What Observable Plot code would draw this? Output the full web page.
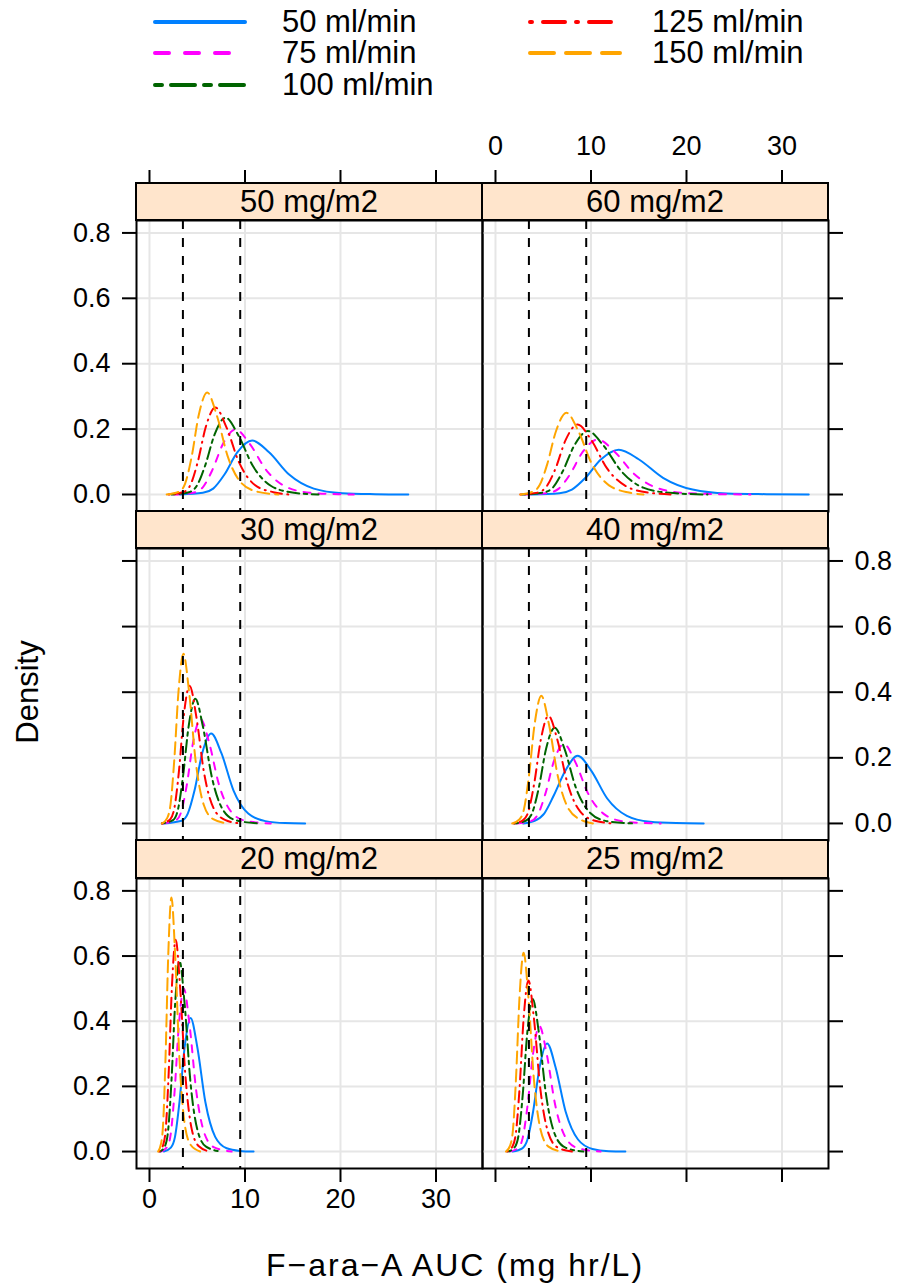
<!DOCTYPE html>
<html>
<head>
<meta charset="utf-8">
<script src="https://cdn.jsdelivr.net/npm/d3@7"></script>
<script src="https://cdn.jsdelivr.net/npm/@observablehq/plot@0.6"></script>
<style>
  body { margin: 0; background: #fff; }
  #chart { position: relative; width: 898px; height: 1283px; overflow: hidden;
           font-family: "Liberation Sans", Arial, Helvetica, sans-serif; color: #000; background: #fff; }
  .strip { position: absolute; box-sizing: border-box; background: #ffe5cc; border: 2px solid #000;
           display: flex; align-items: center; justify-content: center; font-size: 31px; }
  .txt { position: absolute; font-size: 31px; line-height: 26px; white-space: nowrap; }
</style>
</head>
<body>
<div id="chart"></div>
<script>
// ---------------- data ----------------
const flows = ["50 ml/min", "75 ml/min", "100 ml/min", "125 ml/min", "150 ml/min"];
const flowColors = ["#0080ff", "#ff00ff", "#006400", "#ff0000", "#ffa500"];
const flowDash = [null, "7,8", "3.5,4.5,12,4.5", "1,5.5,11,5.5", "12,6"];
const doses = ["50 mg/m2", "60 mg/m2", "30 mg/m2", "40 mg/m2", "20 mg/m2", "25 mg/m2"];
const xTicks = [0, 10, 20, 30];
const xTickLabels = ["0", "10", "20", "30"];
const yTicks = [0, 0.2, 0.4, 0.6, 0.8];
const yTickLabels = ["0.0", "0.2", "0.4", "0.6", "0.8"];
const refLines = [3.5, 9.5];

// density curves [AUC, density], one list per clearance group (50,75,100,125,150 ml/min)
const auc50 = [
  [[3.2,0],[5.59,.005],[6.67,.018],[7.85,.061],[9.19,.129],[10.75,.165],[12.52,.129],[14.62,.061],[17.2,.018],[20.21,.004],[23.65,.001],[27.1,0]],
  [[2.5,0],[4.68,.006],[5.58,.022],[6.57,.074],[7.70,.155],[9.0,.199],[10.49,.155],[12.24,.074],[14.4,.022],[16.92,.005],[19.8,.001],[21.4,0]],
  [[2.3,0],[4.14,.007],[4.94,.026],[5.81,.087],[6.81,.183],[7.96,.235],[9.27,.183],[10.83,.087],[12.74,.026],[14.96,.006],[17.7,0]],
  [[2.0,0],[3.59,.008],[4.28,.029],[5.04,.098],[5.90,.207],[6.9,.266],[8.04,.207],[9.38,.098],[11.04,.029],[12.97,.007],[14.6,0]],
  [[1.8,0],[3.14,.009],[3.74,.034],[4.41,.115],[5.16,.243],[6.04,.312],[7.04,.243],[8.21,.115],[9.66,.034],[11.36,.008],[13.5,0]]
];
const auc60 = [
  [[3.7,0],[6.71,.004],[8.0,.015],[9.42,.051],[11.03,.107],[12.9,.137],[15.03,.107],[17.54,.051],[20.64,.015],[24.25,.003],[28.38,.001],[32.8,0]],
  [[3.0,0],[5.56,.005],[6.63,.018],[7.81,.062],[9.15,.131],[10.7,.168],[12.47,.131],[14.55,.062],[17.12,.018],[20.12,.004],[23.54,.001],[26.7,0]],
  [[2.8,0],[5.03,.006],[6.0,.021],[7.06,.072],[8.27,.151],[9.67,.194],[11.27,.151],[13.15,.072],[15.47,.021],[18.18,.005],[22.2,0]],
  [[2.6,0],[4.47,.006],[5.33,.024],[6.28,.079],[7.35,.167],[8.6,.214],[10.02,.167],[11.7,.079],[13.76,.024],[16.17,.005],[18.7,0]],
  [[2.6,0],[3.86,.008],[4.61,.028],[5.42,.093],[6.35,.195],[7.43,.25],[8.66,.195],[10.10,.093],[11.89,.028],[13.97,.006],[15.5,0]]
];
const auc30 = [
  [[1.5,0],[3.36,.008],[4.01,.03],[4.72,.101],[5.52,.214],[6.46,.274],[7.53,.214],[8.79,.101],[10.34,.03],[12.14,.007],[14.21,.001],[16.3,0]],
  [[1.4,0],[2.78,.01],[3.32,.035],[3.91,.118],[4.57,.248],[5.35,.318],[6.23,.248],[7.28,.118],[8.56,.035],[10.06,.008],[12.7,0]],
  [[1.3,0],[2.50,.011],[2.98,.042],[3.50,.141],[4.10,.296],[4.8,.38],[5.59,.296],[6.53,.141],[7.68,.042],[9.02,.01],[11.4,0]],
  [[1.3,0],[2.18,.013],[2.60,.046],[3.07,.155],[3.59,.328],[4.2,.42],[4.89,.328],[5.71,.155],[6.72,.046],[7.90,.011],[9.5,0]],
  [[1.33,0],[1.85,.016],[2.20,.057],[2.59,.191],[3.04,.403],[3.55,.517],[4.14,.403],[4.83,.191],[5.68,.057],[6.67,.013],[8.2,0]]
];
const auc40 = [
  [[2.9,0],[4.1,.008],[5.1,.03],[6.1,.085],[7.3,.16],[8.6,.206],[10.02,.161],[11.7,.076],[13.76,.023],[16.17,.005],[18.92,.001],[21.8,0]],
  [[2.2,0],[3.72,.007],[4.43,.027],[5.22,.09],[6.11,.189],[7.15,.242],[8.33,.189],[9.72,.09],[11.44,.027],[13.44,.006],[15.73,.001],[17.3,0]],
  [[2.0,0],[3.22,.009],[3.84,.032],[4.53,.108],[5.30,.228],[6.2,.292],[7.22,.228],[8.43,.108],[9.92,.032],[11.66,.007],[14.5,0]],
  [[1.9,0],[2.89,.01],[3.44,.036],[4.05,.121],[4.75,.256],[5.55,.328],[6.47,.256],[7.55,.121],[8.88,.036],[10.43,.008],[12.3,0]],
  [[1.75,0],[2.50,.012],[2.98,.043],[3.50,.144],[4.10,.303],[4.8,.389],[5.59,.303],[6.53,.144],[7.68,.043],[9.02,.01],[10.2,0]]
];
const auc20 = [
  [[1.5,0],[2.24,.012],[2.67,.045],[3.14,.152],[3.68,.32],[4.3,.41],[5.01,.32],[5.85,.152],[6.88,.045],[8.08,.01],[9.46,.002],[10.9,0]],
  [[1.2,0],[1.87,.015],[2.23,.055],[2.63,.185],[3.08,.39],[3.6,.50],[4.19,.39],[4.90,.185],[5.76,.055],[6.77,.013],[8.6,0]],
  [[1.1,0],[1.64,.018],[1.95,.064],[2.30,.216],[2.69,.456],[3.15,.585],[3.67,.456],[4.28,.216],[5.04,.064],[5.92,.015],[7.5,0]],
  [[1.0,0],[1.43,.02],[1.71,.072],[2.01,.241],[2.35,.507],[2.75,.65],[3.20,.507],[3.74,.241],[4.40,.072],[5.17,.016],[6.3,0]],
  [[0.9,0],[1.20,.023],[1.43,.086],[1.68,.289],[1.97,.608],[2.3,.78],[2.68,.608],[3.13,.289],[3.68,.086],[4.32,.02],[5.3,0]]
];
const auc25 = [
  [[1.8,0],[2.81,.01],[3.35,.037],[3.94,.123],[4.62,.259],[5.4,.332],[6.29,.259],[7.34,.123],[8.64,.037],[10.15,.008],[11.88,.001],[13.6,0]],
  [[1.5,0],[2.39,.012],[2.85,.042],[3.36,.142],[3.93,.30],[4.6,.385],[5.36,.30],[6.26,.142],[7.36,.042],[8.65,.01],[11.0,0]],
  [[1.3,0],[2.03,.014],[2.42,.051],[2.85,.173],[3.33,.365],[3.9,.468],[4.54,.365],[5.30,.173],[6.24,.051],[7.33,.012],[9.2,0]],
  [[1.2,0],[1.79,.016],[2.14,.058],[2.52,.194],[2.95,.41],[3.45,.525],[4.02,.41],[4.69,.194],[5.52,.058],[6.49,.013],[8.0,0]],
  [[1.1,0],[1.53,.018],[1.83,.067],[2.15,.226],[2.52,.476],[2.95,.61],[3.44,.476],[4.01,.226],[4.72,.067],[5.55,.015],[6.9,0]]
];

// ---------------- layout ----------------
const X_DOMAIN = [-1.36, 34.87];
const Y_DOMAIN = [-0.052, 0.838];
const colX = [136, 482];
const PW = 346;
const rows = [
  {strip: 183, top: 220, bottom: 511},
  {strip: 511, top: 548, bottom: 840},
  {strip: 840, top: 878, bottom: 1168}
];
const ML = 136, MR = 70, MB = 60;
const FONT = '"Liberation Sans", Arial, Helvetica, sans-serif';

const chart = document.getElementById("chart");

const panels = [
  {label: doses[0], data: auc50, row: 0, col: 0, left: "label", right: null,    bottom: null},
  {label: doses[1], data: auc60, row: 0, col: 1, left: null,    right: "ticks", bottom: null},
  {label: doses[2], data: auc30, row: 1, col: 0, left: "ticks", right: null,    bottom: null},
  {label: doses[3], data: auc40, row: 1, col: 1, left: null,    right: "label", bottom: null},
  {label: doses[4], data: auc20, row: 2, col: 0, left: "label", right: null,    bottom: "label"},
  {label: doses[5], data: auc25, row: 2, col: 1, left: null,    right: "ticks", bottom: "ticks"}
];

const yFmt = d => yTickLabels[yTicks.indexOf(d)];
const xFmt = d => xTickLabels[xTicks.indexOf(d)];
const blank = () => "";

function place(el, left, top) {
  el.style.position = "absolute";
  el.style.left = left + "px";
  el.style.top = top + "px";
  chart.appendChild(el);
}

const svgStyle = {fontSize: "27px", fontFamily: FONT, overflow: "visible", background: "transparent", color: "black"};

for (const p of panels) {
  const r = rows[p.row];
  const ph = r.bottom - r.top;
  const marks = [
    Plot.ruleX(xTicks, {stroke: "#e6e6e6", strokeWidth: 2}),
    Plot.ruleY(yTicks, {stroke: "#e6e6e6", strokeWidth: 2}),
    ...p.data.map((pts, i) => Plot.line(pts, {
      curve: "monotone-x", stroke: flowColors[i], strokeWidth: 2,
      strokeDasharray: flowDash[i] || undefined
    })),
    Plot.ruleX(refLines, {stroke: "black", strokeWidth: 2, strokeDasharray: "9,9"}),
    Plot.frame({stroke: "black", strokeWidth: 2})
  ];
  if (p.left) marks.push(Plot.axisY(yTicks, {anchor: "left", tickSize: 14, tickPadding: 12, strokeWidth: 2, label: null, tickFormat: p.left === "label" ? yFmt : blank}));
  if (p.right) marks.push(Plot.axisY(yTicks, {anchor: "right", tickSize: 14, tickPadding: 12, strokeWidth: 2, label: null, tickFormat: p.right === "label" ? yFmt : blank}));
  if (p.bottom) marks.push(Plot.axisX(xTicks, {anchor: "bottom", tickSize: 14, tickPadding: 6, strokeWidth: 2, label: null, tickFormat: p.bottom === "label" ? xFmt : blank}));

  const svg = Plot.plot({
    width: ML + PW + MR, height: ph + MB,
    marginLeft: ML, marginRight: MR, marginTop: 0, marginBottom: MB,
    x: {domain: X_DOMAIN, axis: null},
    y: {domain: Y_DOMAIN, axis: null},
    style: svgStyle,
    marks
  });
  place(svg, colX[p.col] - ML, r.top);

  const strip = document.createElement("div");
  strip.className = "strip";
  strip.textContent = p.label;
  strip.style.width = (PW + 2) + "px";
  strip.style.height = (r.top - r.strip + 2) + "px";
  place(strip, colX[p.col] - 1, r.strip - 1);
}

// top axis (above first row of strips)
for (let c = 0; c < 2; c++) {
  const svg = Plot.plot({
    width: ML + PW + MR, height: 90,
    marginLeft: ML, marginRight: MR, marginTop: 83, marginBottom: 7,
    x: {domain: X_DOMAIN, axis: null},
    style: svgStyle,
    marks: [Plot.axisX(xTicks, {anchor: "top", tickSize: 14, tickPadding: 15, strokeWidth: 2, label: null, tickFormat: c === 1 ? xFmt : blank})]
  });
  place(svg, colX[c] - ML, rows[0].strip - 83);
}

// ---------------- legend ----------------
const legPos = [
  {lx: 155, tx: 282, y: 22}, {lx: 155, tx: 282, y: 53}, {lx: 155, tx: 282, y: 85},
  {lx: 530, tx: 652, y: 22}, {lx: 530, tx: 652, y: 53}
];
flows.forEach((f, i) => {
  const pos = legPos[i];
  const s = d3.create("svg").attr("width", 96).attr("height", 12);
  s.append("line").attr("x1", 2).attr("x2", 92).attr("y1", 6).attr("y2", 6)
    .attr("stroke", flowColors[i]).attr("stroke-width", 4).attr("stroke-linecap", "round")
    .attr("stroke-dasharray", flowDash[i] ? flowDash[i].split(",").map(v => +v * 2).join(",") : null);
  place(s.node(), pos.lx - 2, pos.y - 6);
  const t = document.createElement("div");
  t.className = "txt";
  t.textContent = f;
  place(t, pos.tx, pos.y - 13);
});

// ---------------- axis titles ----------------
const xl = document.createElement("div");
xl.className = "txt";
xl.textContent = "F\u2212ara\u2212A AUC (mg hr/L)";
xl.style.fontSize = "32px";
xl.style.letterSpacing = "2px";
xl.style.transform = "translate(-50%, -50%)";
place(xl, 455, 1265);

const yl = document.createElement("div");
yl.className = "txt";
yl.textContent = "Density";
yl.style.transform = "translate(-50%, -50%) rotate(-90deg)";
place(yl, 28, 692);
</script>
</body>
</html>
